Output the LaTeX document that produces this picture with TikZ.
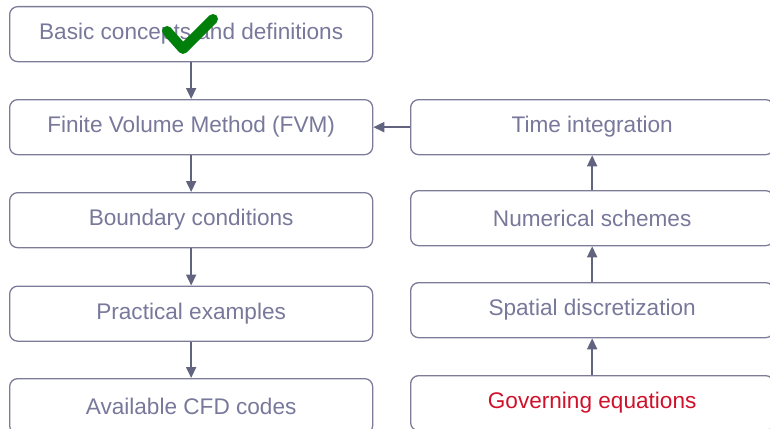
\documentclass[tikz,border=0pt]{standalone}
\usepackage{fontspec}
\setmainfont{Liberation Sans}
\usetikzlibrary{arrows.meta}
\definecolor{boxline}{HTML}{7C7C98}
\definecolor{boxtext}{HTML}{77789A}
\definecolor{arrowc}{HTML}{62637F}
\definecolor{redtext}{HTML}{D0112B}
\definecolor{checkgreen}{HTML}{00800A}
\tikzset{
  stepbox/.style={draw=boxline, line width=1.3pt, rounded corners=8pt, minimum width=363pt, minimum height=55pt, inner sep=0pt, text=boxtext, font=\fontsize{22.6}{26}\selectfont, anchor=north west},
  conn/.style={draw=arrowc, line width=1.8pt, -{Triangle[length=11pt,width=10pt]}}
}
\begin{document}
\begin{tikzpicture}[x=1pt,y=-1pt]
\useasboundingbox (0,0) rectangle (770,428);
% left column
\node[stepbox] (b1) at (9,6) {Basic concepts and definitions};
\node[stepbox] (b2) at (9,99) {Finite Volume Method (FVM)};
\node[stepbox] (b3) at (9,192) {Boundary conditions};
\node[stepbox] (b4) at (9,285.5) {Practical examples};
\node[stepbox] (b5) at (9,378) {Available CFD codes};
% right column
\node[stepbox] (r1) at (410,99) {Time integration};
\node[stepbox] (r2) at (410,190) {Numerical schemes};
\node[stepbox] (r3) at (410,282) {Spatial discretization};
\node[stepbox, text=redtext] (r4) at (410,375) {Governing equations};
% connectors
\draw[conn] (b1.south) -- (b2.north);
\draw[conn] (b2.south) -- (b3.north);
\draw[conn] (b3.south) -- (b4.north);
\draw[conn] (b4.south) -- (b5.north);
\draw[conn] (r4.north) -- (r3.south);
\draw[conn] (r3.north) -- (r2.south);
\draw[conn] (r2.north) -- (r1.south);
\draw[conn] (r1.west) -- (b2.east);
% check mark
\draw[checkgreen, line width=10pt, line cap=round, line join=round] (167,31) -- (183,49) -- (213,19);
\end{tikzpicture}
\end{document}
